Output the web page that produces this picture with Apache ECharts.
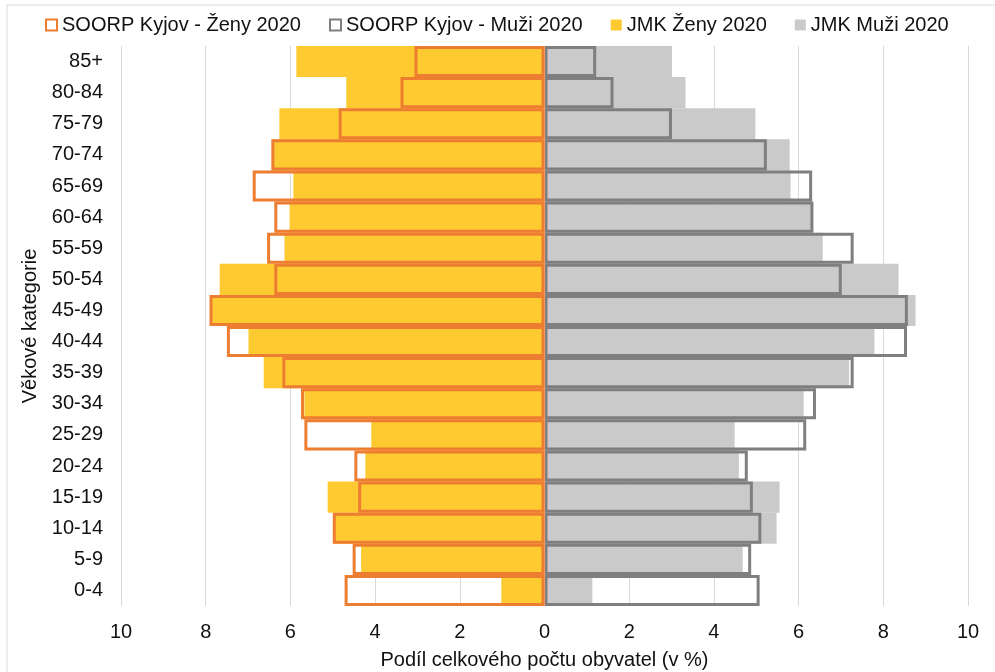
<!DOCTYPE html>
<html>
<head>
<meta charset="utf-8">
<script src="https://cdn.jsdelivr.net/npm/echarts@6/dist/echarts.min.js"></script>
<style>
  html, body { margin: 0; padding: 0; background: #fff; }
  #chart { width: 995px; height: 672px; }
</style>
</head>
<body>
<div id="chart"></div>
<script>
// věkové kategorie (odspodu nahoru)
var categories = ['0-4', '5-9', '10-14', '15-19', '20-24', '25-29', '30-34', '35-39', '40-44',
                  '45-49', '50-54', '55-59', '60-64', '65-69', '70-74', '75-79', '80-84', '85+'];

// podíl v % (ženy se kreslí doleva)
var soorpZeny = [4.72, 4.53, 5.00, 4.40, 4.49, 5.67, 5.75, 6.19, 7.50, 7.91, 6.38, 6.55, 6.38, 6.89, 6.45, 4.86, 3.40, 3.07];
var soorpMuzi = [5.08, 4.88, 5.12, 4.92, 4.80, 6.18, 6.41, 7.30, 8.56, 8.58, 7.02, 7.30, 6.35, 6.32, 5.25, 3.01, 1.63, 1.22];
var jmkZeny   = [1.02, 4.33, 4.98, 5.12, 4.23, 4.09, 5.67, 6.63, 6.99, 7.88, 7.67, 6.14, 6.02, 5.93, 6.42, 6.26, 4.68, 5.86];
var jmkMuzi   = [1.13, 4.68, 5.48, 5.55, 4.59, 4.49, 6.12, 7.19, 7.79, 8.76, 8.36, 6.57, 6.30, 5.81, 5.79, 4.98, 3.33, 3.01];

var font = 'Liberation Sans, Arial, sans-serif';
var chart = echarts.init(document.getElementById('chart'));

var option = {
    animation: false,
    textStyle: { fontFamily: font },
    // rámeček grafu
    graphic: [{
        type: 'rect',
        shape: { x: 7, y: 5, width: 1000, height: 700 },
        style: { fill: 'none', stroke: '#D9D9D9', lineWidth: 1 },
        silent: true
    }],
    legend: {
        top: 10,
        left: 40,
        icon: 'rect',
        itemWidth: 11,
        itemHeight: 11,
        itemGap: 28,
        textStyle: { fontSize: 20, color: '#111', fontFamily: font },
        data: ['SOORP Kyjov - Ženy 2020', 'SOORP Kyjov - Muži 2020', 'JMK Ženy 2020', 'JMK Muži 2020']
    },
    grid: { left: 121, right: 27, top: 46, bottom: 66, outerBoundsMode: 'none' },
    xAxis: {
        type: 'value',
        min: -10,
        max: 10,
        interval: 2,
        name: 'Podíl celkového počtu obyvatel (v %)',
        nameLocation: 'middle',
        nameGap: 44,
        nameTextStyle: { fontSize: 20, color: '#111' },
        axisLine: { show: false },
        axisTick: { show: false },
        axisLabel: {
            fontSize: 20, color: '#111', margin: 16,
            formatter: function (v) { return Math.abs(v); }
        },
        splitLine: { lineStyle: { color: '#D9D9D9', width: 1 } }
    },
    yAxis: {
        type: 'category',
        data: categories,
        name: 'Věkové kategorie',
        nameLocation: 'middle',
        nameGap: 80,
        nameRotate: 90,
        nameTextStyle: { fontSize: 20, color: '#111' },
        axisLine: { show: false, onZero: false },
        axisTick: { show: false },
        axisLabel: { fontSize: 20, color: '#111', margin: 18 }
    },
    series: [
        {
            name: 'JMK Ženy 2020',
            type: 'bar',
            barGap: '-100%',
            barCategoryGap: 0,
            itemStyle: { color: '#FDCA31' },
            data: jmkZeny.map(function (v) { return -v; })
        },
        {
            name: 'JMK Muži 2020',
            type: 'bar',
            barGap: '-100%',
            barCategoryGap: 0,
            itemStyle: { color: '#CACACA' },
            data: jmkMuzi
        },
        {
            name: 'SOORP Kyjov - Muži 2020',
            type: 'bar',
            barGap: '-100%',
            barCategoryGap: 0,
            itemStyle: { color: 'rgba(255,255,255,0)', borderColor: '#7F7F7F', borderWidth: 3 },
            data: soorpMuzi
        },
        {
            name: 'SOORP Kyjov - Ženy 2020',
            type: 'bar',
            barGap: '-100%',
            barCategoryGap: 0,
            itemStyle: { color: 'rgba(255,255,255,0)', borderColor: '#ED7D31', borderWidth: 3 },
            data: soorpZeny.map(function (v) { return -v; }),
            markLine: {
                silent: true,
                symbol: 'none',
                label: { show: false },
                lineStyle: { color: '#F19A5C', width: 1, type: 'solid' },
                data: [{ xAxis: 0 }]
            }
        }
    ]
};

chart.setOption(option);
</script>
</body>
</html>
